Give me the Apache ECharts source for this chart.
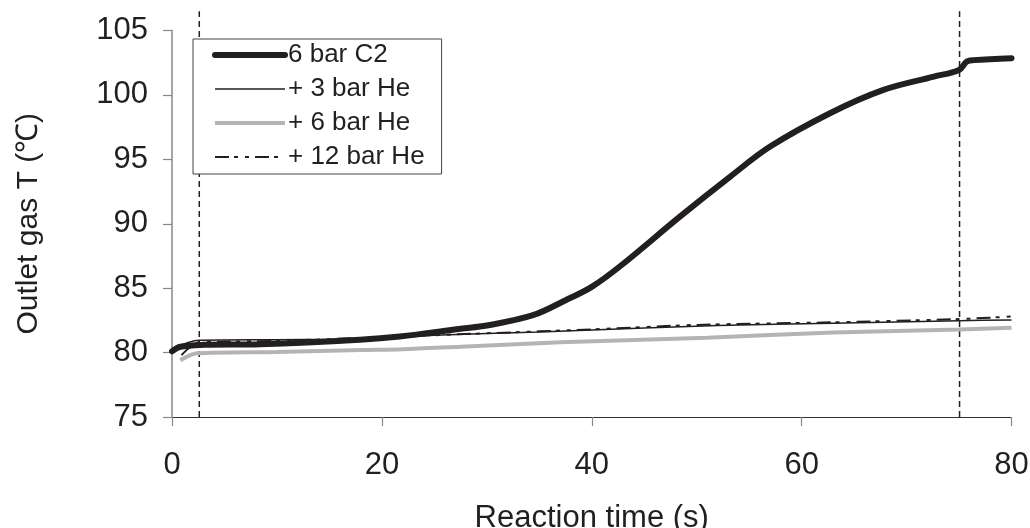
<!DOCTYPE html>
<html><head><meta charset="utf-8">
<script src="https://cdn.jsdelivr.net/npm/echarts@6/dist/echarts.min.js"></script>
<style>html,body{margin:0;padding:0;background:#fff}#c{width:1030px;height:528px}</style>
</head><body><div id="c"></div>
<script>
const seriesNames = ['6 bar C2', '+ 3 bar He', '+ 6 bar He', '+ 12 bar He'];
const xTicks = [0, 20, 40, 60, 80];
const yTicks = [75, 80, 85, 90, 95, 100, 105];
const c2_6bar = [[0,80.1],[0.8,80.45],[3,80.6],[8.4,80.65],[17.9,81.0],[21.7,81.25],[27.5,81.85],[30,82.1],[34.4,82.9],[37.6,84.1],[40,85.1],[42.7,86.7],[48.4,90.55],[53.2,93.66],[57,95.99],[62.7,98.58],[67.8,100.39],[72.6,101.42],[75,101.94],[75.75,102.59],[76.4,102.7],[80,102.85]];
const he_3bar = [[0,80.3],[2.6,80.95],[10,81.0],[18,81.05],[25,81.35],[35,81.6],[45,81.9],[52,82.1],[63,82.27],[75,82.48],[80,82.53]];
const he_6bar = [[0.8,79.4],[2.4,79.95],[10,80.05],[18,80.2],[22,80.26],[27.5,80.46],[37,80.8],[51,81.16],[63,81.55],[75,81.8],[80,81.93]];
const he_12bar = [[0.9,79.8],[2.6,80.8],[10,80.9],[20,81.2],[30,81.5],[40,81.8],[50,82.15],[63,82.35],[75,82.6],[80,82.8]];
const markerTimes = [2.6, 75.05];
const markerRange = [75, 106.5];

const txt = '#231f20';
const ff = 'Liberation Sans, Arial, sans-serif';
const styles = {
  '6 bar C2': {color:txt, width:6, type:'solid', cap:'round'},
  '+ 3 bar He': {color:txt, width:1.5, type:'solid'},
  '+ 6 bar He': {color:'#b4b4b4', width:4, type:'solid'},
  '+ 12 bar He': {color:txt, width:2, type:[14,5,4,7,4,6]}
};
const chart = echarts.init(document.getElementById('c'), null, {renderer:'canvas'});
const markerSeries = markerTimes.map((t,i)=>({
  name: 'marker'+i, type:'line', data:[[t,markerRange[0]],[t,markerRange[1]]],
  symbol:'none', clip:false, silent:true, z:1,
  lineStyle:{color:txt, width:1.5, type:[6,4]}
}));
chart.setOption({
  animation:false,
  backgroundColor:'#fff',
  grid:{left:172, right:18.5, top:30.5, bottom:111, containLabel:false, outerBoundsMode:'none'},
  legend:{
    data: seriesNames.map(n=>({name:n, itemStyle:{opacity:0}, lineStyle:styles[n]})),
    orient:'vertical', left:193, top:39,
    padding:[3,17,4,19], itemGap:8, itemWidth:70, itemHeight:14,
    borderColor:'#444', borderWidth:1, backgroundColor:'#fff',
    textStyle:{fontFamily:ff, fontSize:26, color:txt, padding:[0,0,0,-2]}
  },
  xAxis:{
    type:'value', min:0, max:80, interval:20,
    axisLine:{show:true, onZero:false, lineStyle:{color:'#333', width:1.2}},
    axisTick:{show:true, inside:false, length:9, lineStyle:{color:'#888', width:1.2}},
    splitLine:{show:false},
    axisLabel:{fontFamily:ff, fontSize:31, color:txt, margin:33,
      formatter:v=> xTicks.includes(v)? String(v):''},
    name:'Reaction time (s)', nameLocation:'middle', nameGap:86,
    nameTextStyle:{fontFamily:ff, fontSize:31, color:txt}
  },
  yAxis:{
    type:'value', min:75, max:105, interval:5,
    axisLine:{show:true, onZero:false, lineStyle:{color:'#888', width:1.5}},
    axisTick:{show:true, inside:false, length:9, lineStyle:{color:'#888', width:1.2}},
    splitLine:{show:false},
    axisLabel:{fontFamily:ff, fontSize:31, color:txt, margin:24,
      formatter:v=> yTicks.includes(v)? String(v):''},
    name:'Outlet gas T (℃)', nameLocation:'middle', nameGap:128, nameRotate:90,
    nameTextStyle:{fontFamily:ff, fontSize:30, color:txt}
  },
  series:[
    ...markerSeries,
    {name:seriesNames[2], type:'line', data:he_6bar, symbol:'none', smooth:0.3, z:2,
      itemStyle:{color:styles[seriesNames[2]].color}, lineStyle:styles[seriesNames[2]]},
    {name:seriesNames[3], type:'line', data:he_12bar, symbol:'none', smooth:0.3, z:3,
      itemStyle:{color:txt}, lineStyle:styles[seriesNames[3]]},
    {name:seriesNames[1], type:'line', data:he_3bar, symbol:'none', smooth:0.3, z:4,
      itemStyle:{color:txt}, lineStyle:styles[seriesNames[1]]},
    {name:seriesNames[0], type:'line', data:c2_6bar, symbol:'none', smooth:0.35, z:5,
      itemStyle:{color:txt}, lineStyle:styles[seriesNames[0]]}
  ]
});
</script></body></html>
